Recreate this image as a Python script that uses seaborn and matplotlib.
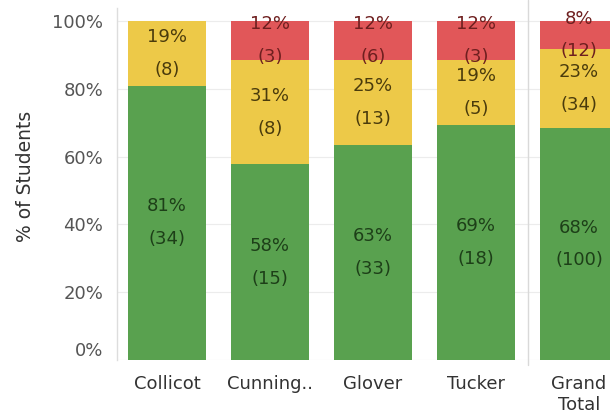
import matplotlib
matplotlib.use("Agg")
import matplotlib.pyplot as plt
import seaborn as sns
import pandas as pd
import numpy as np

schools = ["Collicot", "Cunning..", "Glover", "Tucker", "Grand\nTotal"]
green_counts = [34, 15, 33, 18, 100]
yellow_counts = [8, 8, 13, 5, 34]
red_counts = [0, 3, 6, 3, 12]
y_ticks = [0, 0.2, 0.4, 0.6, 0.8, 1.0]
y_tick_labels = ["0%", "20%", "40%", "60%", "80%", "100%"]

GREEN = "#59A14F"
YELLOW = "#EDC948"
RED = "#E15759"
TXT = {"g": "#1d3f18", "y": "#4a3b0c", "r": "#6e1f1f"}

sns.set_theme(style="white")
plt.rcParams["font.family"] = ["DejaVu Sans"]

g = np.array(green_counts, float)
yv = np.array(yellow_counts, float)
r = np.array(red_counts, float)
tot = g + yv + r
gp, yp, rp = g / tot, yv / tot, r / tot

df = pd.DataFrame({
    "school": schools,
    "all": gp + yp + rp,
    "gy": gp + yp,
    "g": gp,
})

fig = plt.figure(figsize=(6.10, 4.16), dpi=100)
ax = fig.add_axes([117 / 610, 56 / 416, 1 - 117 / 610, 352 / 416])

w = 0.757
sns.barplot(data=df, x="school", y="all", order=schools, color=RED, width=w,
            saturation=1, ax=ax, linewidth=0)
sns.barplot(data=df, x="school", y="gy", order=schools, color=YELLOW, width=w,
            saturation=1, ax=ax, linewidth=0)
sns.barplot(data=df, x="school", y="g", order=schools, color=GREEN, width=w,
            saturation=1, ax=ax, linewidth=0)

fs = 13
for i in range(len(schools)):
    segs = [(0, gp[i], g[i], "g"), (gp[i], yp[i], yv[i], "y"), (gp[i] + yp[i], rp[i], r[i], "r")]
    for base, h, cnt, key in segs:
        if cnt <= 0:
            continue
        c = base + h / 2
        ax.text(i, c, f"{round(h * 100):.0f}%\n({int(cnt)})", ha="center", va="center",
                fontsize=fs, color=TXT[key], linespacing=2.05)

ax.set_xlim(-0.485, 4.30)
ax.set_ylim(0, 352 / 339)
ax.set_yticks(y_ticks)
ax.set_yticklabels(y_tick_labels)
ax.get_yticklabels()[0].set_va("bottom")
ax.yaxis.grid(True, color="#ececec", linewidth=0.8)
ax.set_axisbelow(True)
ax.tick_params(axis="y", length=0, pad=10, labelsize=fs, labelcolor="#555555")
ax.tick_params(axis="x", length=0, pad=11, labelsize=fs, labelcolor="#333333")
ax.set_xlabel("")
ax.set_ylabel("% of Students", fontsize=13.5, color="#333333")
ax.yaxis.set_label_coords(-0.166, 0.523)
for s in ["top", "right", "bottom"]:
    ax.spines[s].set_visible(False)
ax.spines["left"].set_color("#dddddd")
ax.spines["left"].set_linewidth(1)

ax.axvline(3.505, ymin=-5 / 352, ymax=1 + 8 / 352, color="#d9d9d9", linewidth=1, clip_on=False)

fig.savefig("out.png", dpi=100)
